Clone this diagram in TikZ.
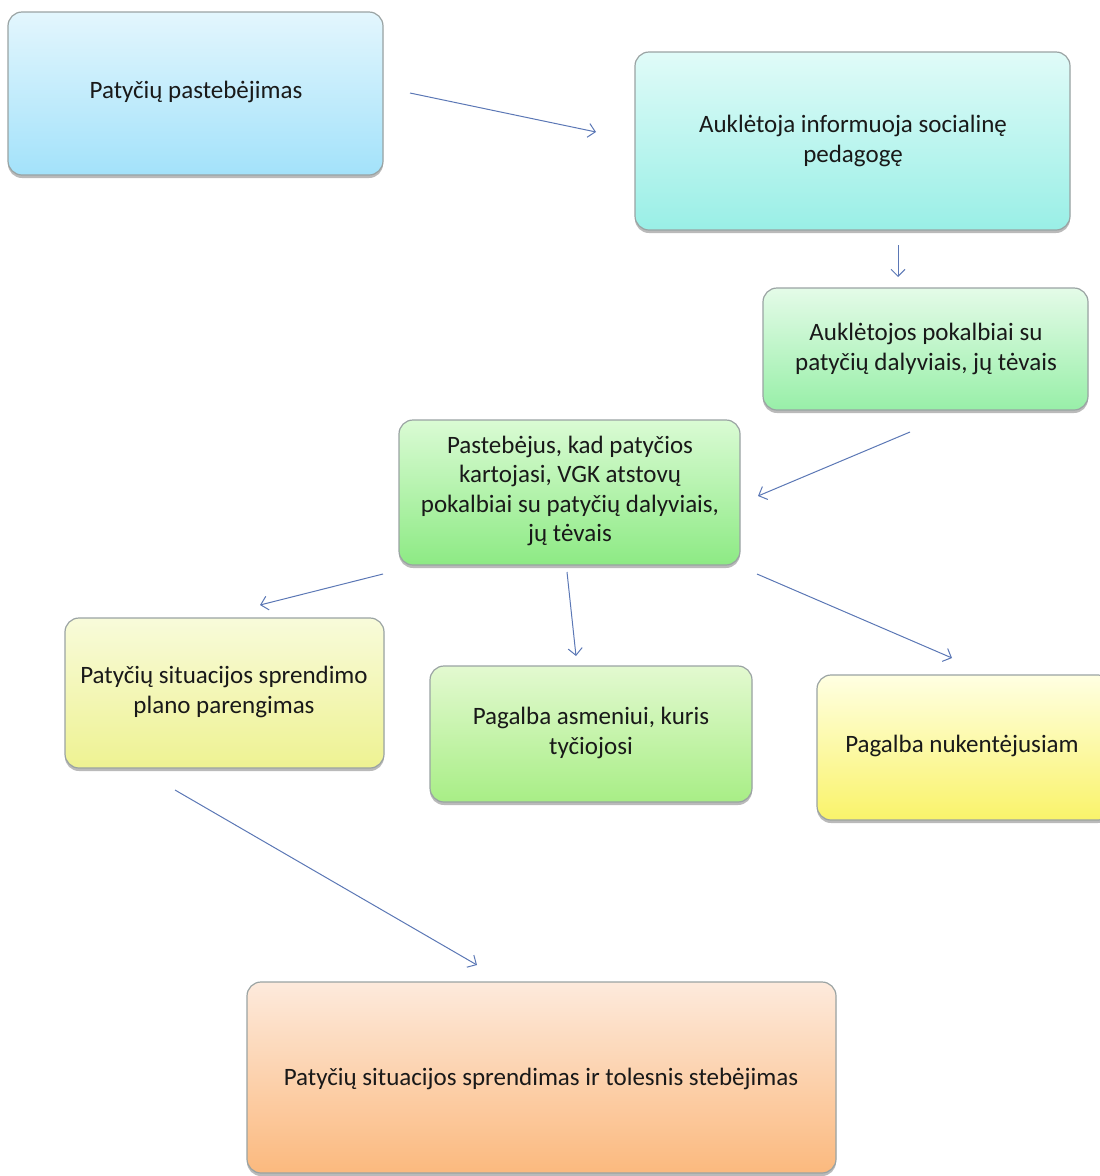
\documentclass[tikz,border=0pt]{standalone}
\usepackage{fontspec}
\setmainfont{Carlito}
\usetikzlibrary{arrows.meta,shadows}
\definecolor{arr}{HTML}{5B77B5}
\definecolor{bord}{HTML}{9AA3A3}
\tikzset{
  box/.style={rounded corners=14pt, draw=bord, line width=1.2pt,
    drop shadow={shadow xshift=0pt, shadow yshift=-3pt, fill=black!45, opacity=0.6}},
  lbl/.style={align=center, font=\fontsize{25}{29.5}\selectfont, text=black!90},
  flow/.style={draw=arr, line width=1pt, -{Straight Barb[length=7pt,width=14pt,line width=1pt]}},
}
\begin{document}
\begin{tikzpicture}[x=1pt,y=-1pt]
\useasboundingbox (0,0) rectangle (1100,1176);
\definecolor{c1t}{HTML}{E3F6FD}\definecolor{c1b}{HTML}{A3E2FA}
\definecolor{c2t}{HTML}{E0FBF8}\definecolor{c2b}{HTML}{99EFE6}
\definecolor{c3t}{HTML}{E4FBE8}\definecolor{c3b}{HTML}{98EFA8}
\definecolor{c4t}{HTML}{DAFBD4}\definecolor{c4b}{HTML}{8DEA84}
\definecolor{c5t}{HTML}{F8FBDA}\definecolor{c5b}{HTML}{EEF292}
\definecolor{c6t}{HTML}{E3F9D0}\definecolor{c6b}{HTML}{A8EE86}
\definecolor{c7t}{HTML}{FFFFE2}\definecolor{c7b}{HTML}{F9F36A}
\definecolor{c8t}{HTML}{FDEADC}\definecolor{c8b}{HTML}{FBB97E}

\path[box, top color=c1t, bottom color=c1b] (8,12) rectangle (383,175);
\node[lbl] (n1) at (196,92) {Patyčių pastebėjimas};

\path[box, top color=c2t, bottom color=c2b] (635,52) rectangle (1070,230);
\node[lbl] (n2) at (853,141) {Auklėtoja informuoja socialinę\\pedagogę};

\path[box, top color=c3t, bottom color=c3b] (763,288) rectangle (1088,410);
\node[lbl] (n3) at (926,349) {Auklėtojos pokalbiai su\\patyčių dalyviais, jų tėvais};

\path[box, top color=c4t, bottom color=c4b] (399,420) rectangle (740,565);
\node[lbl] (n4) at (570,491) {Pastebėjus, kad patyčios\\kartojasi, VGK atstovų\\pokalbiai su patyčių dalyviais,\\jų tėvais};

\path[box, top color=c5t, bottom color=c5b] (65,618) rectangle (384,768);
\node[lbl] (n5) at (224,692) {Patyčių situacijos sprendimo\\plano parengimas};

\path[box, top color=c6t, bottom color=c6b] (430,666) rectangle (752,802);
\node[lbl] (n6) at (591,733) {Pagalba asmeniui, kuris\\tyčiojosi};

\path[box, top color=c7t, bottom color=c7b] (817,675) rectangle (1112,820);
\node[lbl] (n7) at (962,746) {Pagalba nukentėjusiam};

\path[box, top color=c8t, bottom color=c8b] (247,982) rectangle (836,1173);
\node[lbl] (n8) at (541,1079) {Patyčių situacijos sprendimas ir tolesnis stebėjimas};

\coordinate (a1s) at (410,93);  \coordinate (a1e) at (596,132);
\coordinate (a2s) at (898,245); \coordinate (a2e) at (898,277);
\coordinate (a3s) at (910,432); \coordinate (a3e) at (758,496);
\coordinate (a4s) at (383,574); \coordinate (a4e) at (260,605);
\coordinate (a5s) at (567,572); \coordinate (a5e) at (576,656);
\coordinate (a6s) at (757,574); \coordinate (a6e) at (952,658);
\coordinate (a7s) at (175,790); \coordinate (a7e) at (477,965);
\foreach \i in {1,...,7} {\draw[flow] (a\i s) -- (a\i e);}
\end{tikzpicture}
\end{document}
